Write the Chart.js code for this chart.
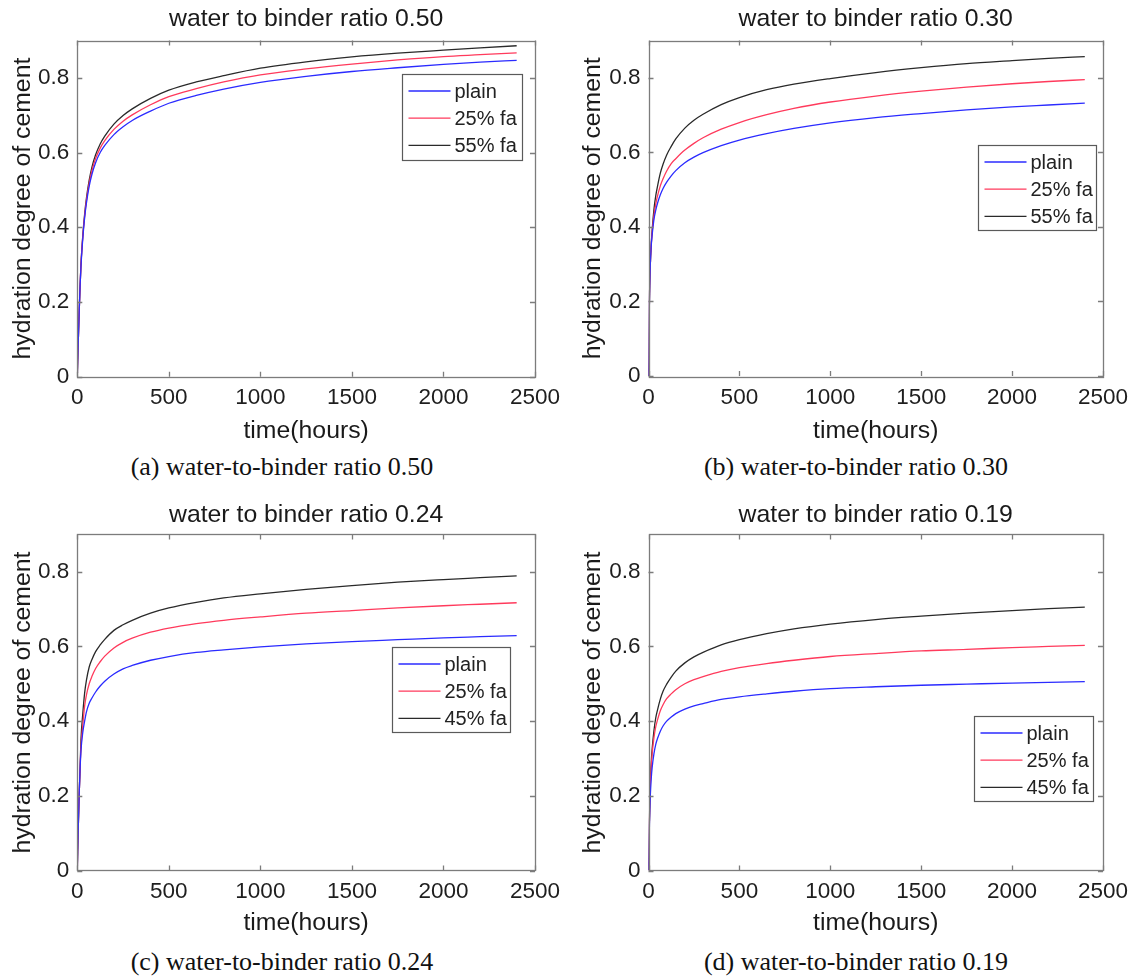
<!DOCTYPE html>
<html><head><meta charset="utf-8">
<script src="https://cdn.jsdelivr.net/npm/chart.js@4.4.1/dist/chart.umd.min.js"></script>
<style>
html,body{margin:0;padding:0;background:#fff;width:1136px;height:979px;overflow:hidden;}
canvas{position:absolute;}
.cap{position:absolute;font-family:"Liberation Serif","Times New Roman",serif;font-size:26px;color:#111;white-space:nowrap;transform:translate(-50%,-50%);}
</style></head><body>
<canvas id="ca" width="568" height="450" style="left:0;top:0"></canvas>
<canvas id="cb" width="566" height="450" style="left:570px;top:0"></canvas>
<canvas id="cc" width="568" height="455" style="left:0;top:490px"></canvas>
<canvas id="cd" width="566" height="455" style="left:570px;top:490px"></canvas>
<div class="cap" style="left:282px;top:467px">(a) water-to-binder ratio 0.50</div>
<div class="cap" style="left:856px;top:467px">(b) water-to-binder ratio 0.30</div>
<div class="cap" style="left:282px;top:962px">(c) water-to-binder ratio 0.24</div>
<div class="cap" style="left:856px;top:962px">(d) water-to-binder ratio 0.19</div>
<script>
// ---- data ----
const hours = [0, 2, 5, 10, 15, 20, 30, 40, 50, 65, 80, 100, 125, 150, 200, 250, 300, 400, 500, 650, 800, 1000, 1250, 1500, 1750, 2000, 2200, 2400];
const xTicks = [0, 500, 1000, 1500, 2000, 2500];
const yTicks = [0, 0.2, 0.4, 0.6, 0.8];
const panelTitles = ['water to binder ratio 0.50', 'water to binder ratio 0.30', 'water to binder ratio 0.24', 'water to binder ratio 0.19'];
const labelsHigh = ['plain', '25% fa', '55% fa'];
const labelsLow = ['plain', '25% fa', '45% fa'];

// w/b 0.50
const plain050 = [0, 0.04, 0.09, 0.17, 0.24, 0.295, 0.37, 0.425, 0.465, 0.51, 0.542, 0.573, 0.600, 0.619, 0.648, 0.669, 0.686, 0.711, 0.732, 0.753, 0.770, 0.788, 0.804, 0.817, 0.827, 0.836, 0.842, 0.847];
const fa25_050 = [0, 0.04, 0.09, 0.17, 0.24, 0.300, 0.375, 0.430, 0.472, 0.518, 0.552, 0.584, 0.612, 0.632, 0.662, 0.684, 0.701, 0.728, 0.750, 0.771, 0.789, 0.808, 0.824, 0.837, 0.848, 0.857, 0.862, 0.867];
const fa55_050 = [0, 0.04, 0.09, 0.17, 0.24, 0.300, 0.378, 0.435, 0.478, 0.526, 0.561, 0.594, 0.623, 0.644, 0.676, 0.699, 0.717, 0.745, 0.767, 0.789, 0.806, 0.826, 0.843, 0.856, 0.866, 0.874, 0.880, 0.886];
// w/b 0.30
const plain030 = [0, 0.04, 0.198, 0.298, 0.349, 0.378, 0.420, 0.445, 0.464, 0.486, 0.503, 0.520, 0.537, 0.551, 0.572, 0.587, 0.599, 0.618, 0.633, 0.650, 0.664, 0.679, 0.693, 0.704, 0.714, 0.722, 0.727, 0.732];
const fa25_030 = [0, 0.045, 0.200, 0.300, 0.351, 0.385, 0.431, 0.462, 0.484, 0.510, 0.529, 0.550, 0.570, 0.583, 0.606, 0.624, 0.639, 0.662, 0.680, 0.701, 0.718, 0.735, 0.751, 0.764, 0.775, 0.784, 0.790, 0.795];
const fa55_030 = [0, 0.05, 0.200, 0.300, 0.353, 0.391, 0.447, 0.484, 0.510, 0.544, 0.568, 0.593, 0.616, 0.636, 0.665, 0.686, 0.702, 0.728, 0.747, 0.768, 0.783, 0.798, 0.814, 0.827, 0.838, 0.846, 0.852, 0.857];
// w/b 0.24
const plain024 = [0, 0.05, 0.11, 0.20, 0.27, 0.32, 0.37, 0.40, 0.425, 0.448, 0.462, 0.478, 0.494, 0.507, 0.526, 0.540, 0.549, 0.563, 0.573, 0.584, 0.591, 0.599, 0.607, 0.613, 0.618, 0.623, 0.626, 0.629];
const fa25_024 = [0, 0.05, 0.11, 0.20, 0.27, 0.33, 0.39, 0.44, 0.470, 0.500, 0.520, 0.541, 0.559, 0.574, 0.596, 0.611, 0.622, 0.638, 0.649, 0.661, 0.670, 0.679, 0.689, 0.696, 0.703, 0.709, 0.713, 0.717];
const fa45_024 = [0, 0.05, 0.11, 0.20, 0.27, 0.35, 0.42, 0.475, 0.510, 0.545, 0.565, 0.586, 0.604, 0.619, 0.643, 0.658, 0.670, 0.689, 0.703, 0.718, 0.730, 0.741, 0.753, 0.763, 0.772, 0.779, 0.784, 0.789];
// w/b 0.19
const plain019 = [0, 0.04, 0.12, 0.200, 0.246, 0.275, 0.313, 0.338, 0.354, 0.373, 0.387, 0.400, 0.411, 0.420, 0.432, 0.441, 0.447, 0.458, 0.465, 0.473, 0.480, 0.487, 0.492, 0.496, 0.499, 0.502, 0.504, 0.506];
const fa25_019 = [0, 0.045, 0.13, 0.227, 0.278, 0.312, 0.356, 0.385, 0.404, 0.428, 0.444, 0.460, 0.473, 0.484, 0.500, 0.511, 0.519, 0.533, 0.543, 0.554, 0.563, 0.573, 0.581, 0.588, 0.592, 0.597, 0.600, 0.603];
const fa45_019 = [0, 0.045, 0.135, 0.235, 0.289, 0.325, 0.375, 0.409, 0.431, 0.459, 0.480, 0.499, 0.518, 0.534, 0.556, 0.572, 0.584, 0.604, 0.618, 0.634, 0.647, 0.660, 0.672, 0.681, 0.689, 0.696, 0.701, 0.705];

const lineColors = ['#2b2bff', '#ff3a5c', '#2a2a2a'];

// ---- plugins ----
const SANS = '"Liberation Sans", Arial, Helvetica, sans-serif';
const matlabAxes = {
  id: 'matlabAxes',
  afterDraw(chart) {
    const {ctx, chartArea: a, scales} = chart;
    const po = chart.options.plugins.matlabAxes;
    ctx.save();
    // title
    ctx.fillStyle = '#1a1a1a';
    ctx.font = '24.8px ' + SANS;
    ctx.textAlign = 'center';
    ctx.textBaseline = 'middle';
    ctx.fillText(po.title, (a.left + a.right) / 2, a.top - po.titleGap);
    // box
    ctx.strokeStyle = '#7c7c7c';
    ctx.lineWidth = 1.3;
    ctx.strokeRect(Math.round(a.left) + 0.5, Math.round(a.top) + 0.5, Math.round(a.right - a.left), Math.round(a.bottom - a.top));
    const tl = 5;
    ctx.beginPath();
    scales.x.ticks.forEach(t => {
      const px = Math.round(scales.x.getPixelForValue(t.value)) + 0.5;
      ctx.moveTo(px, a.bottom); ctx.lineTo(px, a.bottom - tl);
      ctx.moveTo(px, a.top); ctx.lineTo(px, a.top + tl);
    });
    scales.y.ticks.forEach(t => {
      const py = Math.round(scales.y.getPixelForValue(t.value)) + 0.5;
      ctx.moveTo(a.left, py); ctx.lineTo(a.left + tl, py);
      ctx.moveTo(a.right, py); ctx.lineTo(a.right - tl, py);
    });
    ctx.stroke();
    // legend
    const lo = po.legend;
    const bx = Math.round(a.left + lo.x) + 0.5, by = Math.round(a.top + lo.y) + 0.5;
    ctx.fillStyle = '#fff';
    ctx.fillRect(bx, by, lo.w, lo.h);
    ctx.strokeStyle = '#5a5a5a';
    ctx.lineWidth = 1.2;
    ctx.strokeRect(bx, by, lo.w, lo.h);
    ctx.font = '20px ' + SANS;
    ctx.textBaseline = 'middle';
    ctx.textAlign = 'left';
    chart.data.datasets.forEach((ds, i) => {
      const cy = by + 16.5 + i * 27.2;
      ctx.strokeStyle = ds.borderColor;
      ctx.lineWidth = 1.3;
      ctx.beginPath();
      ctx.moveTo(bx + 6, cy); ctx.lineTo(bx + 48, cy);
      ctx.stroke();
      ctx.fillStyle = '#222';
      ctx.fillText(ds.label, bx + 52, cy + 1);
    });
    ctx.restore();
  }
};

function makeChart(id, title, labels, series, geo) {
  const datasets = series.map((s, i) => ({
    label: labels[i],
    data: hours.map((h, k) => ({x: h, y: s[k]})),
    borderColor: lineColors[i],
    borderWidth: 1.3,
    pointRadius: 0,
    fill: false,
    cubicInterpolationMode: 'monotone'
  }));
  const canvas = document.getElementById(id);
  const H = canvas.height;
  return new Chart(canvas, {
    type: 'line',
    data: {datasets},
    plugins: [matlabAxes],
    options: {
      responsive: false,
      animation: false,
      devicePixelRatio: 1,
      layout: {padding: {left: 0, top: geo.plotTop, right: geo.padRight, bottom: 0}},
      plugins: {
        legend: {display: false},
        tooltip: {enabled: false},
        title: {display: false},
        matlabAxes: {title: title, titleGap: geo.titleGap, legend: geo.legend}
      },
      scales: {
        x: {
          type: 'linear', min: 0, max: 2500,
          afterBuildTicks: s => { s.ticks = xTicks.map(v => ({value: v})); },
          afterFit: s => { s.height = H - geo.plotBottom; },
          grid: {display: false, drawTicks: false},
          border: {display: false},
          ticks: {color: '#1e1e1e', font: {family: SANS, size: 22.5}, padding: 8, maxRotation: 0, autoSkip: false,
            callback: v => String(v)},
          title: {display: true, text: 'time(hours)', color: '#1a1a1a',
            font: {family: SANS, size: 24.8, lineHeight: 1.2}, padding: {top: 0, bottom: geo.xTitlePad}}
        },
        y: {
          type: 'linear', min: 0, max: 0.9,
          afterBuildTicks: s => { s.ticks = yTicks.map(v => ({value: v})); },
          afterFit: s => { s.width = geo.plotLeft; },
          grid: {display: false, drawTicks: false},
          border: {display: false},
          ticks: {color: '#1e1e1e', font: {family: SANS, size: 22.5}, padding: 8,
            callback: v => String(Math.round(v * 10) / 10)},
          title: {display: true, text: 'hydration degree of cement', color: '#1a1a1a',
            font: {family: SANS, size: 24.8, lineHeight: 1.2}, padding: {top: 7.8, bottom: 0}}
        }
      }
    }
  });
}

makeChart('ca', panelTitles[0], labelsHigh, [plain050, fa25_050, fa55_050],
  {plotLeft: 77.3, plotTop: 40.5, plotBottom: 376.7, padRight: 568 - 536, titleGap: 21.5, xTitlePad: 4.1,
   legend: {x: 324.7, y: 33.5, w: 120, h: 86}});
makeChart('cb', panelTitles[1], labelsHigh, [plain030, fa25_030, fa55_030],
  {plotLeft: 78.5, plotTop: 40.5, plotBottom: 376.0, padRight: 566 - 541, titleGap: 21.5, xTitlePad: 4.1,
   legend: {x: 329.2, y: 104.5, w: 118, h: 85}});
makeChart('cc', panelTitles[2], labelsLow, [plain024, fa25_024, fa45_024],
  {plotLeft: 77.3, plotTop: 44.4, plotBottom: 380.5, padRight: 568 - 535, titleGap: 19.4, xTitlePad: 7.1,
   legend: {x: 314.7, y: 112.9, w: 118, h: 85}});
makeChart('cd', panelTitles[3], labelsLow, [plain019, fa25_019, fa45_019],
  {plotLeft: 78.5, plotTop: 44.4, plotBottom: 380.5, padRight: 566 - 541, titleGap: 19.4, xTitlePad: 7.1,
   legend: {x: 325.5, y: 181.6, w: 119, h: 85}});
</script>
</body></html>
